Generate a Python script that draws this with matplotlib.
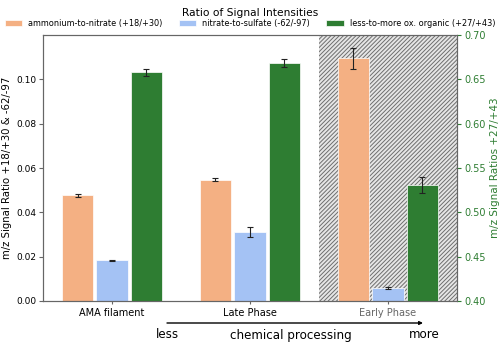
import matplotlib
matplotlib.use("Agg")
import matplotlib.pyplot as plt
import numpy as np

categories = ["AMA filament", "Late Phase", "Early Phase"]
amm_nit = [0.0476, 0.0548, 0.1095]
amm_nit_err = [0.0005, 0.0006, 0.0046]
nit_sul = [0.0183, 0.0312, 0.0060]
nit_sul_err = [0.0004, 0.0022, 0.0004]
less_more = [0.658, 0.668, 0.531]
less_more_err = [0.004, 0.0045, 0.0087]

c_orange = "#f4b083"
c_blue = "#a4c2f4"
c_green = "#2e7d32"

plt.rcParams["hatch.linewidth"] = 0.7

fig = plt.figure(figsize=(5.0, 3.47), dpi=100)
ax = fig.add_axes([0.086, 0.1326, 0.828, 0.7664])
ax2 = ax.twinx()

x = np.arange(len(categories))
w = 0.225
off = 0.25

ax.axvspan(1.5, 2.5, facecolor="#e6e6e6", hatch="////////", edgecolor="#6e6e6e", linewidth=0, zorder=0)

ekw = dict(elinewidth=0.8, capthick=0.8, ecolor="#222222")
b1 = ax.bar(x - off, amm_nit, w, yerr=amm_nit_err, color=c_orange, edgecolor="white", linewidth=0.5,
            capsize=2, error_kw=ekw, zorder=2, label="ammonium-to-nitrate (+18/+30)")
b2 = ax.bar(x, nit_sul, w, yerr=nit_sul_err, color=c_blue, edgecolor="white", linewidth=0.5,
            capsize=2, error_kw=ekw, zorder=2, label="nitrate-to-sulfate (-62/-97)")
b3 = ax2.bar(x + off, less_more, w, yerr=less_more_err, color=c_green, edgecolor="white", linewidth=0.5,
             capsize=2, error_kw=ekw, zorder=2, label="less-to-more ox. organic (+27/+43)")

ax.set_xlim(-0.5, 2.5)
ax.set_ylim(0, 0.12)
ax2.set_ylim(0.40, 0.70)
ax.set_yticks([0, 0.02, 0.04, 0.06, 0.08, 0.10])
ax2.set_yticks([0.40, 0.45, 0.50, 0.55, 0.60, 0.65, 0.70])
ax.set_xticks(x)
ax.set_xticklabels(categories, fontsize=7)
ax.get_xticklabels()[2].set_color("#666666")
ax.tick_params(axis="y", labelsize=6.5, length=3, pad=2, color="#666666")
ax.tick_params(axis="x", length=2, pad=3, color="#666666")
ax2.tick_params(axis="y", labelsize=7, length=3, pad=2, colors=c_green)
for a in (ax, ax2):
    for s in a.spines.values():
        s.set_color("#666666")

ax.set_ylabel("m/z Signal Ratio +18/+30 & -62/-97", fontsize=7.3, labelpad=3)
ax2.set_ylabel("m/z Signal Ratios +27/+43", fontsize=7.5, color=c_green, labelpad=3)

fig.text(0.5, 0.962, "Ratio of Signal Intensities", ha="center", va="center", fontsize=7.7)
fig.legend(handles=[b1, b2, b3], loc="center", bbox_to_anchor=(0.5, 0.933), ncol=3, frameon=False,
           fontsize=5.9, handlelength=2.1, handleheight=0.7, columnspacing=2.0, handletextpad=0.75)

fig.add_artist(matplotlib.patches.FancyArrowPatch((167 / 500, 1 - 323 / 347), (423 / 500, 1 - 323 / 347),
               transform=fig.transFigure, arrowstyle="-|>", mutation_scale=5, color="black", linewidth=1,
               shrinkA=0, shrinkB=0))
fig.text(167 / 500, 1 - 335 / 347, "less", ha="center", va="center", fontsize=8.6)
fig.text(291 / 500, 1 - 335 / 347, "chemical processing", ha="center", va="center", fontsize=8.6)
fig.text(424 / 500, 1 - 335 / 347, "more", ha="center", va="center", fontsize=8.6)

fig.savefig("out.png", dpi=100)
